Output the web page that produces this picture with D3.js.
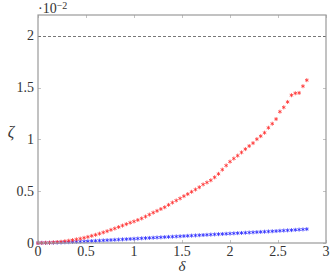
<!DOCTYPE html>
<html>
<head>
<meta charset="utf-8">
<script src="https://cdn.jsdelivr.net/npm/d3@7"></script>
<style>
  body { margin: 0; background: #fff; }
  text { font-family: "Liberation Serif", "DejaVu Serif", serif; fill: #333; }
</style>
</head>
<body>
<svg id="chart" width="333" height="274"></svg>
<script>
// delta values (x) and zeta values in units of 10^-2
var deltas = [0, 0.04, 0.08, 0.12, 0.16, 0.2, 0.24, 0.28, 0.32, 0.36, 0.4, 0.44, 0.48, 0.52, 0.56, 0.6,
  0.64, 0.68, 0.72, 0.76, 0.8, 0.84, 0.88, 0.92, 0.96, 1.0, 1.04, 1.08, 1.12, 1.16, 1.2, 1.24, 1.28,
  1.32, 1.36, 1.4, 1.44, 1.48, 1.52, 1.56, 1.6, 1.64, 1.68, 1.72, 1.76, 1.8, 1.84, 1.88, 1.92, 1.96,
  2.0, 2.04, 2.08, 2.12, 2.16, 2.2, 2.24, 2.28, 2.32, 2.36, 2.4, 2.44, 2.48, 2.52, 2.56, 2.6, 2.64,
  2.68, 2.72, 2.76, 2.8];

var zetaRed = [0, 0.001, 0.002, 0.003, 0.006, 0.009, 0.012, 0.017, 0.022, 0.028, 0.035, 0.042, 0.05,
  0.059, 0.069, 0.079, 0.09, 0.102, 0.114, 0.127, 0.14, 0.154, 0.168, 0.182, 0.196, 0.208, 0.222,
  0.237, 0.255, 0.274, 0.293, 0.31, 0.328, 0.345, 0.368, 0.39, 0.41, 0.43, 0.452, 0.472, 0.494,
  0.516, 0.538, 0.565, 0.584, 0.605, 0.634, 0.667, 0.708, 0.748, 0.785, 0.815, 0.843, 0.874, 0.906,
  0.936, 0.964, 1.002, 1.031, 1.064, 1.112, 1.151, 1.196, 1.267, 1.309, 1.361, 1.426, 1.445, 1.448,
  1.513, 1.571];

var zetaBlue = [0, 0.001, 0.001, 0.002, 0.003, 0.004, 0.005, 0.007, 0.008, 0.01, 0.012, 0.013, 0.015,
  0.017, 0.019, 0.021, 0.023, 0.025, 0.027, 0.029, 0.031, 0.033, 0.035, 0.037, 0.039, 0.041, 0.043,
  0.045, 0.047, 0.049, 0.051, 0.053, 0.055, 0.057, 0.059, 0.061, 0.063, 0.065, 0.067, 0.069, 0.071,
  0.073, 0.075, 0.077, 0.079, 0.081, 0.083, 0.085, 0.087, 0.089, 0.091, 0.093, 0.095, 0.097, 0.099,
  0.101, 0.103, 0.105, 0.107, 0.109, 0.111, 0.113, 0.115, 0.118, 0.12, 0.122, 0.124, 0.127, 0.129,
  0.131, 0.134];

var xTicks = [0, 0.5, 1, 1.5, 2, 2.5, 3];
var yTicks = [0, 0.5, 1, 1.5, 2];
var refLevel = 2;

var svg = d3.select('#chart');
var margin = {top: 15, right: 7, bottom: 31, left: 38},
    width = 333 - margin.left - margin.right,
    height = 274 - margin.top - margin.bottom;

var x = d3.scaleLinear().domain([0, 3]).range([margin.left, margin.left + width]);
var y = d3.scaleLinear().domain([0, 2.2]).range([margin.top + height, margin.top]);

var axisColor = '#9a9a9a';
var tickLen = 3;

// ticks on all four sides, pointing inward
var g = svg.append('g');
xTicks.forEach(function(t) {
  var px = Math.round(x(t)) + 0.5;
  g.append('line').attr('x1', px).attr('x2', px)
    .attr('y1', y(0)).attr('y2', y(0) - tickLen)
    .attr('stroke', axisColor).attr('stroke-width', 0.6);
  g.append('line').attr('x1', px).attr('x2', px)
    .attr('y1', margin.top).attr('y2', margin.top + tickLen)
    .attr('stroke', axisColor).attr('stroke-width', 0.6);
  g.append('text').attr('x', x(t)).attr('y', 256)
    .attr('text-anchor', 'middle').style('font-size', '14px').text(t);
});
yTicks.forEach(function(t) {
  var py = Math.round(y(t)) + 0.5;
  g.append('line').attr('x1', margin.left).attr('x2', margin.left + tickLen)
    .attr('y1', py).attr('y2', py)
    .attr('stroke', axisColor).attr('stroke-width', 0.6);
  g.append('line').attr('x1', margin.left + width).attr('x2', margin.left + width - tickLen)
    .attr('y1', py).attr('y2', py)
    .attr('stroke', axisColor).attr('stroke-width', 0.6);
  g.append('text').attr('x', 34).attr('y', y(t) + 4.5)
    .attr('text-anchor', 'end').style('font-size', '14px').text(t);
});

// reference dashed line
svg.append('line')
  .attr('x1', x(0)).attr('x2', x(3))
  .attr('y1', Math.round(y(refLevel)) + 0.5).attr('y2', Math.round(y(refLevel)) + 0.5)
  .attr('stroke', '#555').attr('stroke-width', 0.8)
  .attr('stroke-dasharray', '3,2');

// markers
var star = d3.symbol().type(d3.symbolAsterisk).size(11);
function drawSeries(vals, color) {
  svg.append('g').selectAll('path')
    .data(deltas)
    .enter().append('path')
    .attr('d', star)
    .attr('transform', function(d, i) { return 'translate(' + x(d) + ',' + y(vals[i]) + ')'; })
    .attr('fill', 'none')
    .attr('stroke', color)
    .attr('stroke-width', 1)
    .attr('opacity', 0.8);
}
drawSeries(zetaBlue, '#2a2aff');
drawSeries(zetaRed, '#ff3030');

// frame
svg.append('rect')
  .attr('x', margin.left).attr('y', margin.top)
  .attr('width', width).attr('height', height)
  .attr('fill', 'none').attr('stroke', axisColor).attr('stroke-width', 1.2);

// scale factor label
var sc = svg.append('text').attr('x', 38).attr('y', 13).style('font-size', '14px');
sc.append('tspan').text('\u00b710');
sc.append('tspan').attr('dy', -4).style('font-size', '10px').text('\u22122');

// axis labels
svg.append('text').attr('x', 11).attr('y', 137).attr('text-anchor', 'middle')
  .style('font-size', '16px').style('font-style', 'italic').text('\u03b6');
svg.append('text').attr('x', x(1.5)).attr('y', 271).attr('text-anchor', 'middle')
  .style('font-size', '15px').style('font-style', 'italic').text('\u03b4');
</script>
</body>
</html>
